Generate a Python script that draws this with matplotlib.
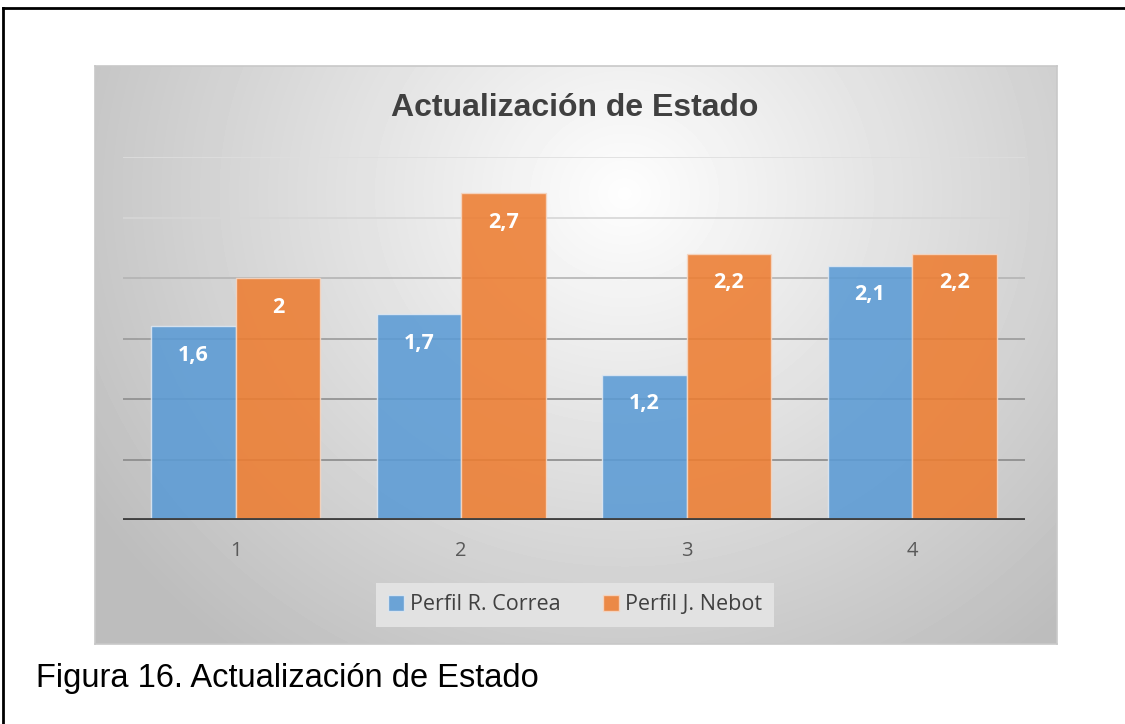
import numpy as np
import matplotlib.pyplot as plt
from matplotlib.lines import Line2D

# data
categories = ['1', '2', '3', '4']
series_names = ['Perfil R. Correa', 'Perfil J. Nebot']
correa = [1.6, 1.7, 1.2, 2.1]
nebot = [2.0, 2.7, 2.2, 2.2]
title = 'Actualización de Estado'
caption = 'Figura 16. Actualización de Estado'

W, H = 1125, 724
fig = plt.figure(figsize=(W / 100, H / 100), dpi=100)
fig.patch.set_facecolor('white')

# outer frame of the page (top and left edges visible)
fig.add_artist(Line2D([3 / W, 3 / W], [0, 1 - 8 / H], color='black', lw=2))
fig.add_artist(Line2D([3 / W, 1], [1 - 8 / H, 1 - 8 / H], color='black', lw=2))

# chart area with radial grey gradient
bx0, bx1, by0, by1 = 95, 1057, 66, 644
bg = fig.add_axes([bx0 / W, 1 - by1 / H, (bx1 - bx0) / W, (by1 - by0) / H])
ny, nx = by1 - by0, bx1 - bx0
yy, xx = np.mgrid[0:ny, 0:nx]
r = np.sqrt(((xx - nx * 0.55) / (nx * 0.62)) ** 2 + ((yy - ny * 0.22) / (ny * 0.95)) ** 2)
shade = np.clip(0.995 - 0.24 * r, 0.74, 1.0)
bg.imshow(shade, cmap='gray', vmin=0, vmax=1, aspect='auto', interpolation='bilinear')
bg.set_xticks([])
bg.set_yticks([])
for s in bg.spines.values():
    s.set_color('#c8c8c8')
    s.set_linewidth(1.2)

# plot axes
px0, px1, py_top, py_base = 123, 1025, 157, 520
ax = fig.add_axes([px0 / W, 1 - py_base / H, (px1 - px0) / W, (py_base - py_top) / H])
ax.patch.set_alpha(0)
ax.set_xlim(-0.5, len(categories) - 0.5)
ax.set_ylim(0, 3.0)

grid_vals = [0.5, 1.0, 1.5, 2.0, 2.5, 3.0]
grid_cols = ['#8a8a8a', '#8e8e8e', '#9a9a9a', '#b4b4b4', '#d6d6d6', '#dedede']
for v, c in zip(grid_vals, grid_cols):
    ax.axhline(v, color=c, lw=1.2, zorder=0)

x = np.arange(len(categories))
w = 0.375
b1 = ax.bar(x - w / 2, correa, w, color='#5B9BD5', alpha=0.88, edgecolor='#dfe8f2',
            linewidth=1, label=series_names[0], zorder=2)
b2 = ax.bar(x + w / 2, nebot, w, color='#ED7D31', alpha=0.88, edgecolor='#f5d7c4',
            linewidth=1, label=series_names[1], zorder=2)

for bars, vals in ((b1, correa), (b2, nebot)):
    for rect, v in zip(bars, vals):
        lab = ('%g' % v).replace('.', ',')
        ax.annotate(lab, (rect.get_x() + rect.get_width() / 2, v), xytext=(0, -29),
                    textcoords='offset pixels', ha='center', va='center',
                    color='white', fontsize=15.5, fontweight='bold', family='Open Sans', zorder=3)

ax.axhline(0, color='#404040', lw=3.5, zorder=4)
ax.set_yticks([])
ax.set_xticks(x)
ax.set_xticklabels(categories, fontsize=14.5, color='#595959', family='Open Sans')
ax.tick_params(axis='x', length=0, pad=15)
for s in ax.spines.values():
    s.set_visible(False)

leg = ax.legend(loc='center', bbox_to_anchor=((575 - px0) / (px1 - px0), -(605 - py_base) / (py_base - py_top)),
                ncol=2, frameon=True, fancybox=False, prop={'family': 'Open Sans', 'size': 15.5},
                handlelength=0.75, handleheight=0.75, handletextpad=0.25, columnspacing=2.0,
                borderpad=0.55, borderaxespad=0)
leg.get_frame().set_facecolor('#e2e2e2')
leg.get_frame().set_edgecolor('none')
leg.get_frame().set_alpha(1)
for t in leg.get_texts():
    t.set_color('#404040')

fig.text(575 / W, 1 - 108 / H, title, ha='center', va='center', fontsize=23,
         fontweight='bold', color='#404040', family='Liberation Sans')
fig.text(36 / W, 1 - 679 / H, caption, ha='left', va='center', fontsize=23.5,
         color='black', family='Liberation Sans')

fig.savefig('out.png', dpi=100)
